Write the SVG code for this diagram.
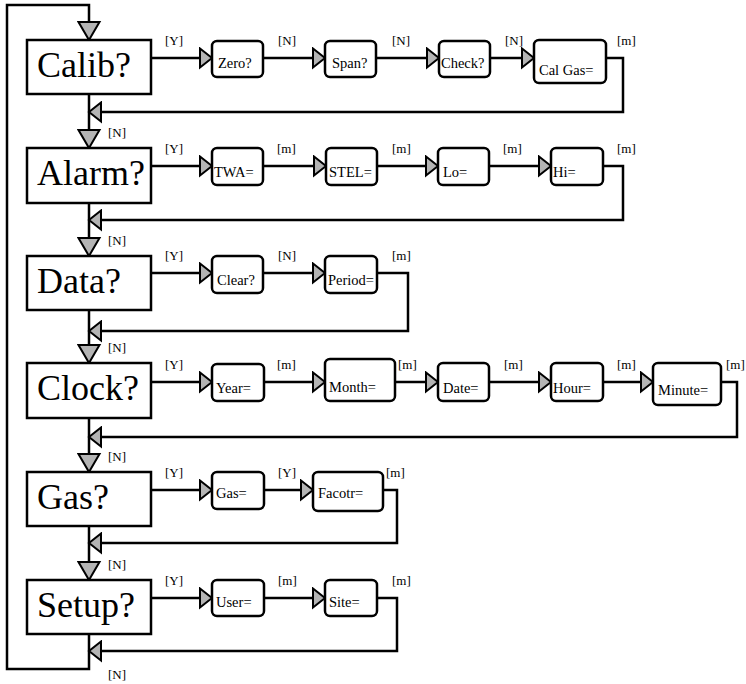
<svg xmlns="http://www.w3.org/2000/svg" width="746" height="684" viewBox="0 0 746 684">
<style>
.main{fill:#fff;stroke:#000;stroke-width:2.5}
.sub{fill:#fff;stroke:#000;stroke-width:2.5}
.c{fill:none;stroke:#000;stroke-width:2.5}
.h{marker-end:url(#ah)}
.v{marker-end:url(#av)}
</style>
<defs>
<marker id="ah" markerUnits="userSpaceOnUse" markerWidth="16" markerHeight="23" viewBox="-2 -2 16 23" refX="12" refY="9.5" orient="auto">
<path d="M0,0 L12,9.5 L0,19 Z" fill="#b4b4b4" stroke="#000" stroke-width="2"/>
</marker>
<marker id="av" markerUnits="userSpaceOnUse" markerWidth="22" markerHeight="25" viewBox="-2 -2 22 25" refX="18" refY="10.5" orient="auto">
<path d="M0,0 L18,10.5 L0,21 Z" fill="#b4b4b4" stroke="#000" stroke-width="2"/>
</marker>
</defs>
<g id="connectors">
<path class="c v" d="M89,634 V669 H7 V5 H89 V40"/>
<path class="c v" d="M89,94 V148"/>
<path class="c v" d="M89,203 V256"/>
<path class="c v" d="M89,310 V363"/>
<path class="c v" d="M89,418 V472"/>
<path class="c v" d="M89,526 V580"/>
<path class="c h" d="M151,58 H212"/>
<path class="c h" d="M263,58 H325"/>
<path class="c h" d="M376,58 H439"/>
<path class="c h" d="M490,58 H534"/>
<path class="c h" d="M606,58 H623 V112 H89"/>
<path class="c h" d="M151,166 H212"/>
<path class="c h" d="M263,166 H326"/>
<path class="c h" d="M377,166 H438"/>
<path class="c h" d="M489,166 H551"/>
<path class="c h" d="M603,166 H623 V220 H89"/>
<path class="c h" d="M151,273 H212"/>
<path class="c h" d="M263,273 H325"/>
<path class="c h" d="M377,273 H408 V331 H89"/>
<path class="c h" d="M151,382 H212"/>
<path class="c h" d="M264,382 H325"/>
<path class="c h" d="M395,382 H438"/>
<path class="c h" d="M489,382 H551"/>
<path class="c h" d="M603,382 H653"/>
<path class="c h" d="M721,382 H737 V437 H89"/>
<path class="c h" d="M151,490 H212"/>
<path class="c h" d="M264,490 H313"/>
<path class="c h" d="M383,490 H397 V543 H89"/>
<path class="c h" d="M151,598 H212"/>
<path class="c h" d="M264,598 H325"/>
<path class="c h" d="M377,598 H397 V651 H89"/>
<g font-family="'Liberation Serif', 'DejaVu Serif', 'Times New Roman', serif" font-size="13" fill="#000">
<text x="108" y="137">[N]</text>
<text x="108" y="245">[N]</text>
<text x="108" y="352">[N]</text>
<text x="108" y="461">[N]</text>
<text x="108" y="569">[N]</text>
<text x="108" y="679">[N]</text>
<text x="165" y="45">[Y]</text><text x="278" y="45">[N]</text><text x="392" y="45">[N]</text><text x="505" y="45">[N]</text><text x="617" y="45">[m]</text>
<text x="165" y="153">[Y]</text><text x="277" y="153">[m]</text><text x="392" y="153">[m]</text><text x="503" y="153">[m]</text><text x="617" y="153">[m]</text>
<text x="165" y="260">[Y]</text><text x="278" y="260">[N]</text><text x="392" y="260">[m]</text>
<text x="165" y="369">[Y]</text><text x="277" y="369">[m]</text><text x="398" y="369">[m]</text><text x="504" y="369">[m]</text><text x="617" y="369">[m]</text><text x="726" y="369">[m]</text>
<text x="165" y="477">[Y]</text><text x="278" y="477">[Y]</text><text x="386" y="477">[m]</text>
<text x="165" y="585">[Y]</text><text x="278" y="585">[m]</text><text x="392" y="585">[m]</text>
</g>
</g>
<g font-family="'Liberation Serif', 'DejaVu Serif', 'Times New Roman', serif" font-size="36" fill="#000">
<g id="calib"><rect class="main" x="27" y="40" width="124" height="54"/><text x="37" y="77">Calib?</text></g>
<g id="alarm"><rect class="main" x="27" y="148" width="124" height="55"/><text x="37" y="185">Alarm?</text></g>
<g id="data"><rect class="main" x="27" y="256" width="124" height="54"/><text x="37" y="293">Data?</text></g>
<g id="clock"><rect class="main" x="27" y="363" width="124" height="55"/><text x="37" y="400">Clock?</text></g>
<g id="gas"><rect class="main" x="27" y="472" width="124" height="54"/><text x="37" y="509">Gas?</text></g>
<g id="setup"><rect class="main" x="27" y="580" width="124" height="54"/><text x="37" y="617">Setup?</text></g>
</g>
<g font-family="'Liberation Serif', 'DejaVu Serif', 'Times New Roman', serif" font-size="14.5" fill="#000">
<g id="zero"><rect class="sub" x="212" y="41" width="51" height="36" rx="5"/><text x="218" y="68">Zero?</text></g>
<g id="span"><rect class="sub" x="325" y="41" width="51" height="36" rx="5"/><text x="332" y="68">Span?</text></g>
<g id="check"><rect class="sub" x="439" y="41" width="51" height="36" rx="5"/><text x="441" y="68">Check?</text></g>
<g id="calgas"><rect class="sub" x="534" y="40" width="72" height="43" rx="5"/><text x="539" y="75">Cal Gas=</text></g>
<g id="twa"><rect class="sub" x="212" y="148" width="51" height="37" rx="5"/><text x="214" y="177">TWA=</text></g>
<g id="stel"><rect class="sub" x="326" y="148" width="51" height="37" rx="5"/><text x="329" y="177">STEL=</text></g>
<g id="lo"><rect class="sub" x="438" y="148" width="51" height="37" rx="5"/><text x="443" y="177">Lo=</text></g>
<g id="hi"><rect class="sub" x="551" y="148" width="52" height="37" rx="5"/><text x="553" y="177">Hi=</text></g>
<g id="clear"><rect class="sub" x="212" y="256" width="51" height="37" rx="5"/><text x="217" y="285">Clear?</text></g>
<g id="period"><rect class="sub" x="325" y="256" width="52" height="37" rx="5"/><text x="328" y="285">Period=</text></g>
<g id="year"><rect class="sub" x="212" y="364" width="52" height="37" rx="5"/><text x="216" y="393">Year=</text></g>
<g id="month"><rect class="sub" x="325" y="359" width="70" height="42" rx="5"/><text x="329" y="392">Month=</text></g>
<g id="date"><rect class="sub" x="438" y="363" width="51" height="38" rx="5"/><text x="443" y="393">Date=</text></g>
<g id="hour"><rect class="sub" x="551" y="363" width="52" height="38" rx="5"/><text x="553" y="393">Hour=</text></g>
<g id="minute"><rect class="sub" x="653" y="363" width="68" height="42" rx="5"/><text x="658" y="395">Minute=</text></g>
<g id="gasv"><rect class="sub" x="212" y="472" width="52" height="37" rx="5"/><text x="216" y="498">Gas=</text></g>
<g id="factor"><rect class="sub" x="313" y="472" width="70" height="39" rx="5"/><text x="318" y="498">Facotr=</text></g>
<g id="user"><rect class="sub" x="212" y="580" width="52" height="36" rx="5"/><text x="216" y="607">User=</text></g>
<g id="site"><rect class="sub" x="325" y="580" width="52" height="36" rx="5"/><text x="329" y="607">Site=</text></g>
</g>
</svg>
